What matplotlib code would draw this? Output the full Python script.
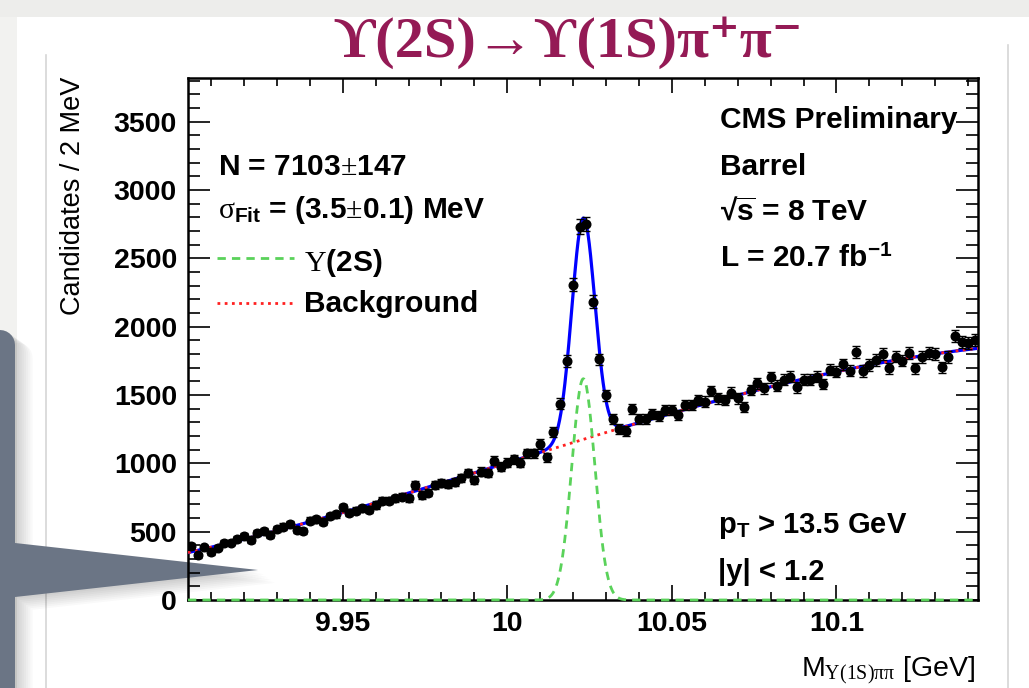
import numpy as np
import matplotlib
matplotlib.use('Agg')
from matplotlib import pyplot as plt
from matplotlib.patches import Polygon
from matplotlib.lines import Line2D


W, H = 1029, 688

# histogram: 120 bins of 2 MeV
BIN_LO = 9.903
BIN_WIDTH = 0.002
counts = [395, 329, 386, 349, 383, 420, 420, 444, 468, 439,
          488, 505, 476, 517, 537, 556, 512, 505, 581, 591,
          573, 615, 627, 679, 639, 652, 671, 659, 695, 727,
          727, 744, 756, 744, 842, 769, 786, 842, 859, 849,
          866, 891, 927, 878, 939, 927, 1020, 976, 1005, 1030,
          1005, 1074, 1074, 1142, 1045, 1230, 1437, 1750, 2306, 2733,
          2750, 2184, 1760, 1497, 1323, 1250, 1237, 1396, 1323, 1323,
          1359, 1347, 1391, 1391, 1354, 1428, 1428, 1464, 1452, 1530,
          1476, 1464, 1518, 1476, 1411, 1537, 1586, 1550, 1630, 1568,
          1611, 1635, 1557, 1611, 1611, 1635, 1581, 1684, 1671, 1725,
          1679, 1813, 1676, 1720, 1757, 1799, 1696, 1781, 1752, 1806,
          1696, 1777, 1806, 1801, 1703, 1777, 1933, 1891, 1879, 1903]

# fit result
SIG_YIELD = 7103
SIG_MEAN = 10.0231
SIG_SIGMA = 0.0035
BKG_CENTER = 10.023
BKG_SCALE = 0.12
bkg_coefs = [1175.1, 878.7, -80.6, -131.2]   # cubic in t = (m - center) / scale

x_major = [9.95, 10.0, 10.05, 10.1]
x_major_labels = ['9.95', '10', '10.05', '10.1']
y_major = [0, 500, 1000, 1500, 2000, 2500, 3000, 3500]

TITLE_COLOR = '#941a55'
GREEN = '#5ad25a'
RED = '#ff2020'


def px(x, y):
    # pixel position (from top-left) -> figure fraction
    return x / W, 1 - y / H


def background(m):
    t = (m - BKG_CENTER) / BKG_SCALE
    return sum(c * t ** k for k, c in enumerate(bkg_coefs))


def signal(m):
    amp = SIG_YIELD * BIN_WIDTH / (np.sqrt(2 * np.pi) * SIG_SIGMA)
    return amp * np.exp(-0.5 * ((m - SIG_MEAN) / SIG_SIGMA) ** 2)


def add_poly(fig, pts, **kw):
    verts = [px(x, y) for x, y in pts]
    fig.add_artist(Polygon(verts, closed=True, transform=fig.transFigure, **kw))


def fig_line(fig, x0, x1, y0, y1, **kw):
    (fx0, fy0), (fx1, fy1) = px(x0, y0), px(x1, y1)
    fig.add_artist(Line2D([fx0, fx1], [fy0, fy1], transform=fig.transFigure, **kw))


def main():
    plt.rcParams['font.family'] = ['Liberation Sans', 'DejaVu Sans']
    plt.rcParams['mathtext.fontset'] = 'custom'
    plt.rcParams['mathtext.rm'] = 'Liberation Serif'
    plt.rcParams['mathtext.it'] = 'Liberation Serif'
    plt.rcParams['mathtext.bf'] = 'Liberation Sans:bold'

    fig = plt.figure(figsize=(W / 100, H / 100), dpi=100)
    fig.patch.set_facecolor('white')

    # slide decoration
    add_poly(fig, [(0, 0), (W, 0), (W, 17), (0, 17)], color='#ededeb', lw=0, zorder=-5)
    add_poly(fig, [(0, 17), (17, 17), (17, H), (0, H)], color='#f2f2f0', lw=0, zorder=-5)
    fig_line(fig, 46, 46, 55, H, color='#d6d6d6', lw=1.2, zorder=-4)
    fig_line(fig, 1008, 1008, 45, H, color='#d6d6d6', lw=1.2, zorder=-4)

    # callout with soft shadow
    arc = [(15 * np.cos(a), 345 - 15 * np.sin(a)) for a in np.linspace(0, np.pi / 2, 8)]
    block = [(-5, 330)] + arc[::-1] + [(15, 543), (258, 570), (15, 597), (15, H), (-5, H)]
    for k in range(8, 0, -1):
        shadow = [(x + k * 2.2, y + k * 1.6) for x, y in block]
        add_poly(fig, shadow, color='black', alpha=0.022, lw=0, zorder=-3)
    add_poly(fig, block, color='#6b7585', lw=0, zorder=-2)

    ax = fig.add_axes([188 / W, 1 - 600 / H, 790 / W, 522 / H])
    ax.set_facecolor('none')

    centers = [BIN_LO + BIN_WIDTH * (i + 0.5) for i in range(len(counts))]
    errors = np.sqrt(counts)

    m = np.linspace(BIN_LO, BIN_LO + BIN_WIDTH * len(counts), 1200)
    ax.plot(m, background(m) + signal(m), color='#0000ff', lw=2.3, zorder=3)
    ax.plot(m, background(m), color=RED, lw=2.0, ls=(0, (1, 1.6)), zorder=3.5)
    ax.plot(m, signal(m), color=GREEN, lw=2.0, ls=(0, (3, 2.2)), zorder=3.6, clip_on=False)
    ax.errorbar(centers, counts, yerr=errors, fmt='o', color='black', ms=6.2,
                elinewidth=1.0, capsize=2.8, capthick=1.0, zorder=4)

    ax.set_xlim(BIN_LO, BIN_LO + BIN_WIDTH * len(counts))
    ax.set_ylim(0, 3820)
    ax.set_xticks(x_major)
    ax.set_xticklabels(x_major_labels)
    ax.set_xticks(np.arange(9.91, 10.1405, 0.01), minor=True)
    ax.set_yticks(y_major)
    ax.set_yticks(np.arange(0, 3801, 100), minor=True)

    for lab in ax.get_xticklabels() + ax.get_yticklabels():
        lab.set_fontsize(20.5)
        lab.set_fontweight('bold')
    ax.tick_params(axis='x', which='major', direction='in', length=11, width=1.2, top=True, pad=8)
    ax.tick_params(axis='x', which='minor', direction='in', length=5.5, width=1.2, top=True)
    ax.tick_params(axis='y', which='major', direction='in', length=16, width=1.2, right=True, pad=8)
    ax.tick_params(axis='y', which='minor', direction='in', length=8.6, width=1.2, right=True)
    for s in ax.spines.values():
        s.set_linewidth(1.8)

    # axis titles
    fig.text(*px(73, 77), 'Candidates / 2 MeV', rotation=90, ha='center', va='top', fontsize=19.5)
    fig.text(*px(975, 677), r'M$_{\Upsilon\mathrm{(1S)}\pi\pi}$ [GeV]', ha='right', va='baseline', fontsize=20.5)

    # title
    fig.text(*px(568, 57), 'ϒ(2S)→ϒ(1S)π⁺π⁻', ha='center', va='baseline', fontsize=42,
             fontweight='bold', color=TITLE_COLOR, family=['Liberation Serif', 'DejaVu Serif'])

    bold = dict(fontsize=21.5, fontweight='bold', va='baseline', ha='left')
    fig.text(*px(218, 175), r'N = 7103$\pm$147', **bold)
    fig.text(*px(218, 218), r'$\sigma_{\mathbf{Fit}}$ = (3.5$\pm$0.1) MeV', **bold)
    fig_line(fig, 217, 294, 258, 258, color=GREEN, lw=2.0, ls=(0, (3, 2.2)))
    fig.text(*px(304, 271), r'$\Upsilon$(2S)', **bold)
    fig_line(fig, 217, 294, 303, 303, color=RED, lw=2.0, ls=(0, (1, 1.6)))
    fig.text(*px(304, 312), 'Background', **bold)

    fig.text(*px(720, 128), 'CMS Preliminary', **bold)
    fig.text(*px(720, 175), 'Barrel', **bold)
    fig.text(*px(720, 220), r'√$\overline{\mathbf{s}}$ = 8 TeV', **bold)
    fig.text(*px(720, 267), r'L = 20.7 fb$^{\mathbf{-1}}$', **bold)

    small = dict(bold, fontsize=21)
    fig.text(*px(718, 533), r'p$_{\mathbf{T}}$ > 13.5 GeV', **small)
    fig.text(*px(718, 580), '|y| < 1.2', **small)

    fig.savefig('out.png', dpi=100)
    plt.close(fig)


if __name__ == '__main__':
    main()
